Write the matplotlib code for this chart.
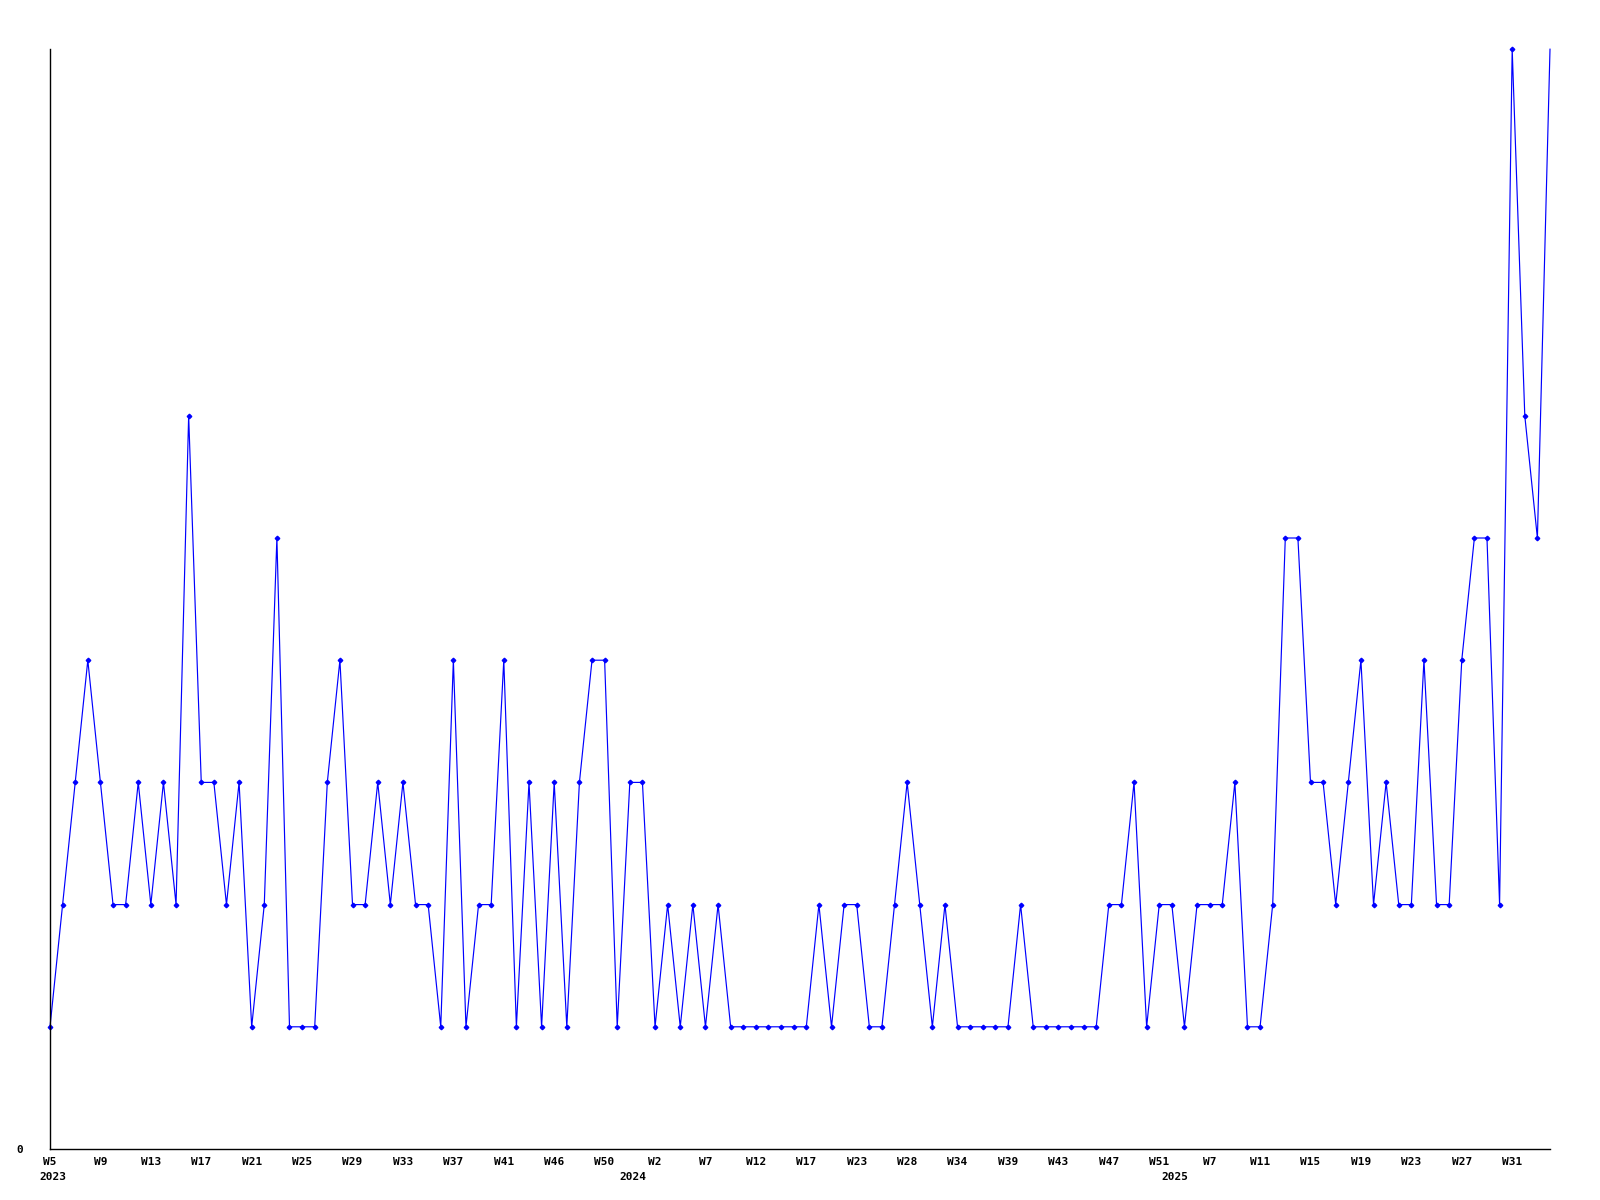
import matplotlib
matplotlib.use('Agg')
import matplotlib.pyplot as plt

# weekly counts, one point per week
values = [1, 2, 3, 4, 3, 2, 2, 3, 2, 3,
          2, 6, 3, 3, 2, 3, 1, 2, 5, 1,
          1, 1, 3, 4, 2, 2, 3, 2, 3, 2,
          2, 1, 4, 1, 2, 2, 4, 1, 3, 1,
          3, 1, 3, 4, 4, 1, 3, 3, 1, 2,
          1, 2, 1, 2, 1, 1, 1, 1, 1, 1,
          1, 2, 1, 2, 2, 1, 1, 2, 3, 2,
          1, 2, 1, 1, 1, 1, 1, 2, 1, 1,
          1, 1, 1, 1, 2, 2, 3, 1, 2, 2,
          1, 2, 2, 2, 3, 1, 1, 2, 5, 5,
          3, 3, 2, 3, 4, 2, 3, 2, 2, 4,
          2, 2, 4, 5, 5, 2, 9, 6, 5, 9]

week_labels = ['W5', 'W9', 'W13', 'W17', 'W21', 'W25', 'W29', 'W33', 'W37', 'W41',
               'W46', 'W50', 'W2', 'W7', 'W12', 'W17', 'W23', 'W28', 'W34', 'W39',
               'W43', 'W47', 'W51', 'W7', 'W11', 'W15', 'W19', 'W23', 'W27', 'W31']
week_label_pos = list(range(0, 120, 4))

years = ['2023', '2024', '2025']
year_pos = [0, 46, 89]

x = list(range(len(values)))

fig = plt.figure(figsize=(16, 12), dpi=100)
ax = fig.add_axes([0.03125, 0.0425, 0.9375, 0.9165])

ax.plot(x, values, color='#0000ff', lw=0.85, marker='D', markersize=2.3,
        markevery=list(range(len(values) - 1)), clip_on=False)

ax.set_xlim(0, len(values) - 1)
ax.set_ylim(0, max(values))

font = dict(family='DejaVu Sans Mono', weight='bold', size=8)

ax.set_yticks([0])
ax.set_yticklabels(['0'], **font)
ax.set_xticks(week_label_pos)
ax.set_xticklabels(week_labels, **font)
ax.tick_params(axis='y', length=0, pad=19)
ax.tick_params(axis='x', length=0, pad=6)

for yr, p in zip(years, year_pos):
    ax.annotate(yr, xy=(p, 0), xycoords=('data', 'axes fraction'),
                xytext=(3, -28), textcoords='offset pixels',
                ha='center', va='center', **font)

ax.spines['top'].set_visible(False)
ax.spines['right'].set_visible(False)
ax.spines['left'].set_linewidth(1.0)
ax.spines['bottom'].set_linewidth(1.0)

plt.savefig('out.png', dpi=100)
